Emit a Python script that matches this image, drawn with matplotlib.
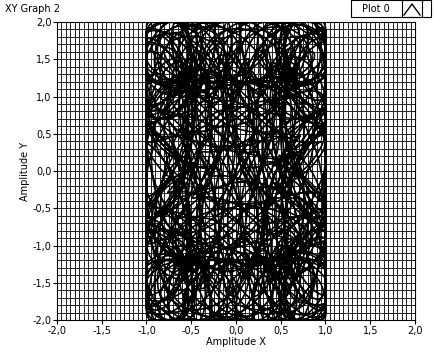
import numpy as np
import matplotlib.pyplot as plt
from matplotlib.patches import Rectangle

# signal settings (sine generators, both channels saturate)
x_amps = [0.85, 0.3]      # main swing, small loop
y_amps = [1.65, 0.45]
freqs = [1.0, 1.37, 5.3]  # x main, y main, loop frequency
x_limit = 1.0
y_limit = 2.0
n_cycles = 40
n_samples = 7000

x_ticks = [-2.0, -1.5, -1.0, -0.5, 0.0, 0.5, 1.0, 1.5, 2.0]
y_ticks = [-2.0, -1.5, -1.0, -0.5, 0.0, 0.5, 1.0, 1.5, 2.0]
tick_labels = ["-2,0", "-1,5", "-1,0", "-0,5", "0,0", "0,5", "1,0", "1,5", "2,0"]

t = np.linspace(0, 2 * np.pi * n_cycles, n_samples)
x = x_amps[0] * np.sin(freqs[0] * t) + x_amps[1] * np.sin(freqs[2] * t)
x = np.clip(x, -x_limit, x_limit)
y = y_amps[0] * np.sin(freqs[1] * t + 0.4) + y_amps[1] * np.cos(freqs[2] * t)
y = np.clip(y, -y_limit, y_limit)

fig = plt.figure(figsize=(4.34, 3.53), dpi=100)
ax = fig.add_axes([57 / 434, 1 - 320 / 353, 358 / 434, 298 / 353])

ax.set_xlim(-2, 2)
ax.set_ylim(-2, 2)
ax.set_xticks(x_ticks)
ax.set_xticklabels(tick_labels)
ax.set_yticks(y_ticks)
ax.set_yticklabels(tick_labels)
ax.set_xticks(np.arange(-2, 2.001, 0.05), minor=True)
ax.set_yticks(np.arange(-2, 2.001, 0.1), minor=True)
ax.grid(True, which="both", color="#222222", linewidth=0.7)
ax.set_axisbelow(True)
ax.tick_params(which="major", length=3, width=0.8, labelsize=7, pad=1)
ax.tick_params(which="minor", length=0)

ax.plot(x, y, color="black", linewidth=1.2)

for s in ax.spines.values():
    s.set_linewidth(0.8)

ax.set_xlabel("Amplitude X", fontsize=7, labelpad=1)
ax.set_ylabel("Amplitude Y", fontsize=7, labelpad=2)

fig.text(5 / 434, 1 - 9 / 353, "XY Graph 2", fontsize=7, va="center", ha="left")

# legend box in the top right corner
fig.patches.append(Rectangle((351 / 434, 1 - 17 / 353), 80 / 434, 17 / 353,
                             transform=fig.transFigure, fill=False,
                             edgecolor="black", linewidth=0.8))
fig.patches.append(Rectangle((402 / 434, 1 - 17 / 353), 20 / 434, 17 / 353,
                             transform=fig.transFigure, fill=False,
                             edgecolor="black", linewidth=0.8))
fig.text(376 / 434, 1 - 8.5 / 353, "Plot 0", fontsize=7, va="center", ha="center")
fig.lines.append(plt.Line2D([404 / 434, 412 / 434, 420 / 434],
                            [1 - 15 / 353, 1 - 4 / 353, 1 - 15 / 353],
                            transform=fig.transFigure, color="black", linewidth=1.0))

fig.savefig("out.png", dpi=100)
